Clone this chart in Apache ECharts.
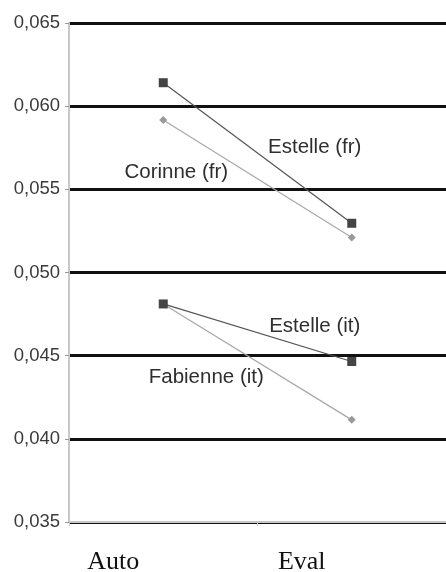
<!DOCTYPE html>
<html><head><meta charset="utf-8">
<script src="https://cdn.jsdelivr.net/npm/echarts@6/dist/echarts.min.js"></script>
<style>html,body{margin:0;padding:0;background:#fff}#c{width:446px;height:572px}</style>
</head><body><div id="c"></div>
<script>
const categories = ["Auto", "Eval"];
const seriesNames = ["Estelle (fr)", "Corinne (fr)", "Estelle (it)", "Fabienne (it)"];
const estelleFr = [0.06141, 0.05296];
const corinneFr = [0.05917, 0.0521];
const estelleIt = [0.04811, 0.04465];
const fabienneIt = [0.04811, 0.04114];
const yTicks = [0.035, 0.040, 0.045, 0.050, 0.055, 0.060, 0.065];

const chart = echarts.init(document.getElementById('c'), null, {renderer: 'canvas'});
const labelFont = {fontFamily: 'Liberation Sans, Arial, sans-serif', fontSize: 20.5, color: '#2e2e2e'};
function mk(name, data, symbol, size, mcolor, lcolor, z, lab) {
  return {
    name: name, type: 'line', data: data, symbol: symbol, symbolSize: size,
    itemStyle: {color: mcolor}, lineStyle: {color: lcolor, width: 1.2},
    label: {show: false}, z: z,
    markPoint: {
      symbol: 'circle', symbolSize: 0, silent: true,
      label: Object.assign({show: true, formatter: name, position: 'inside', offset: lab.offset}, labelFont),
      data: [{coord: [lab.cat, lab.val]}]
    }
  };
}
chart.setOption({
  animation: false,
  grid: {left: 69, right: 0, top: 23, bottom: 50, containLabel: false, outerBoundsMode: 'none'},
  xAxis: {
    type: 'category', data: categories, boundaryGap: true,
    axisLine: {lineStyle: {color: '#c8c8c8', width: 2}},
    axisTick: {show: true, length: 4, lineStyle: {color: '#c8c8c8'}},
    axisLabel: {margin: 27, fontFamily: 'Liberation Serif, Times New Roman, serif', fontSize: 26, color: '#111', padding: [0, 100, 0, 0]},
    splitLine: {show: false}
  },
  yAxis: {
    type: 'value', min: 0.035, max: 0.065, interval: 0.005,
    axisLine: {show: true, lineStyle: {color: '#c8c8c8', width: 2}},
    axisTick: {show: true, length: 4, lineStyle: {color: '#999'}},
    axisLabel: {margin: 9, fontFamily: 'Liberation Sans, Arial, sans-serif', fontSize: 18.5, color: '#3a3a3a',
      formatter: v => v.toFixed(3).replace('.', ',')},
    splitLine: {show: true, lineStyle: {color: '#111', width: 3}}
  },
  series: [
    mk(seriesNames[0], estelleFr, 'rect', 9, '#444', '#555', 6, {cat: 'Eval', val: 0.05755, offset: [-37, 0]}),
    mk(seriesNames[1], corinneFr, 'diamond', 8, '#999', '#a8a8a8', 5, {cat: 'Auto', val: 0.05605, offset: [13, 0]}),
    mk(seriesNames[2], estelleIt, 'rect', 9, '#444', '#555', 6, {cat: 'Eval', val: 0.04679, offset: [-37, 0]}),
    mk(seriesNames[3], fabienneIt, 'diamond', 8, '#999', '#a8a8a8', 5, {cat: 'Auto', val: 0.04367, offset: [43, 0]})
  ]
});
</script></body></html>
